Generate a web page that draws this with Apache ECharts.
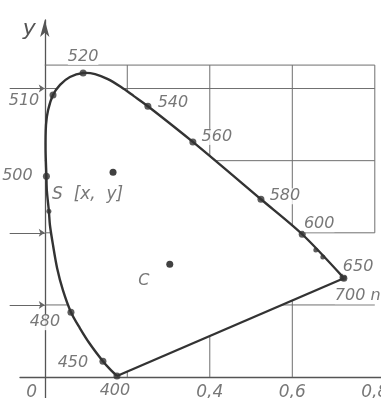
<!DOCTYPE html>
<html>
<head>
<meta charset="utf-8">
<script src="https://cdn.jsdelivr.net/npm/echarts@6/dist/echarts.min.js"></script>
<style>
  html, body { margin: 0; padding: 0; background: #fff; }
  #chart { width: 381px; height: 398px; }
</style>
</head>
<body>
<div id="chart"></div>
<script>
// CIE 1931 (x, y) chromaticity diagram: spectral locus, purple line,
// illuminant C and a sample colour S.

// Spectral locus traced from 400 nm round to 650 nm
const locusX = [0.175, 0.158, 0.141, 0.110, 0.085, 0.0635, 0.044, 0.030, 0.020, 0.0126,
                0.010, 0.005, 0.004, 0.002, 0.003, 0.008, 0.020, 0.037, 0.061, 0.093,
                0.122, 0.153, 0.185, 0.216, 0.250, 0.359, 0.524, 0.624, 0.723];
const locusY = [0.003, 0.022, 0.044, 0.091, 0.136, 0.180, 0.241, 0.302, 0.366, 0.421,
                0.460, 0.518, 0.557, 0.629, 0.699, 0.740, 0.782, 0.810, 0.832, 0.843,
                0.840, 0.826, 0.804, 0.779, 0.751, 0.652, 0.493, 0.396, 0.277];

// Labelled wavelengths on the locus
const waveNames = ['400', '450', '480', '500', '510', '520', '540', '560', '580', '600', '650', '700 nm'];
const waveX = [0.175, 0.141, 0.0635, 0.004, 0.020, 0.093, 0.250, 0.359, 0.524, 0.624, 0.723, 0.725];
const waveY = [0.003, 0.044, 0.180, 0.557, 0.782, 0.843, 0.751, 0.652, 0.493, 0.396, 0.277, 0.274];

// Unlabelled wavelength marks
const dotX = [0.010, 0.657, 0.674];
const dotY = [0.460, 0.352, 0.333];

// Sample colour S and illuminant C
const pointNames = ['S  [x,  y]', 'C'];
const pointX = [0.1655, 0.303];
const pointY = [0.568, 0.313];

// Coordinate grid and x tick labels
const gridXs = [0.2, 0.4, 0.6, 0.8];
const gridXFrom = [0, 0, 0, 0.4];
const gridYs = [0.2, 0.4, 0.6, 0.8];
const frameTop = 0.865;
const frameRight = 0.8;
const arrowYs = [0.2, 0.4, 0.8];
const arrowStartX = -0.085;
const xTickValues = [0, 0.4, 0.6, 0.8];
const xTickLabels = ['0', '0,4', '0,6', '0,8'];

// label placement (pixels from the mark)
const labelPlacement = {
  '400': { offset: [-2, 15] },
  '450': { offset: [-30, 2] },
  '480': { offset: [-26, 10] },
  '500': { offset: [-29, 0] },
  '510': { offset: [-29, 6] },
  '520': { offset: [0, -16] },
  '540': { offset: [25, -3] },
  '560': { offset: [24, -5] },
  '580': { offset: [24, -3] },
  '600': { offset: [17, -10] },
  '650': { offset: [15, -10] },
  '700 nm': { offset: [-9, 18], align: 'left' },
  'S  [x,  y]': { offset: [-61, 22], align: 'left', fontSize: 17 },
  'C': { offset: [-26, 17] },
  '0': { offset: [-13, 15] },
  '0,4': { offset: [0, 15] },
  '0,6': { offset: [0, 15] },
  '0,8': { offset: [0, 15] }
};

const textFont = { color: '#555', fontSize: 16, fontStyle: 'italic', fontFamily: 'DejaVu Sans' };
const ink = '#333';

const gridSegments = [];
gridXs.forEach((gx, i) => gridSegments.push([gx, gridXFrom[i], gx, frameTop]));
gridYs.forEach(gy => gridSegments.push([0, gy, frameRight, gy]));
gridSegments.push([0, frameTop, frameRight, frameTop]);

function labelled(names, xs, ys) {
  return names.map((n, i) => {
    const p = labelPlacement[n];
    const label = { offset: p.offset, align: p.align || 'center' };
    if (p.fontSize) label.fontSize = p.fontSize;
    return { name: n, value: [xs[i], ys[i]], label };
  });
}

const labelStyle = {
  show: true,
  position: 'inside',
  formatter: p => p.name,
  color: textFont.color,
  fontSize: textFont.fontSize,
  fontStyle: textFont.fontStyle,
  fontFamily: textFont.fontFamily
};

const chart = echarts.init(document.getElementById('chart'), null, { renderer: 'canvas' });

chart.setOption({
  animation: false,
  backgroundColor: '#fff',
  grid: { left: 20, right: 0, top: 20, bottom: 0, outerBoundsMode: 'none' },
  xAxis: {
    type: 'value',
    min: -0.06,
    max: 0.815,
    axisLine: { onZero: true, lineStyle: { color: '#555', width: 1.3 } },
    axisTick: { show: false },
    splitLine: { show: false },
    axisLabel: { show: false }
  },
  yAxis: {
    type: 'value',
    min: -0.058,
    max: 0.99,
    name: 'y',
    nameLocation: 'end',
    nameGap: 2,
    nameTextStyle: {
      color: '#555', fontSize: 22, fontStyle: 'italic', fontFamily: 'DejaVu Sans',
      align: 'right', verticalAlign: 'top', padding: [0, 9, 0, 0]
    },
    axisLine: {
      onZero: true,
      symbol: ['none', 'arrow'],
      symbolSize: [7, 17],
      lineStyle: { color: '#555', width: 1.3 }
    },
    axisTick: { show: false },
    axisLabel: { show: false },
    splitLine: { show: false }
  },
  series: [
    {
      // grid lines, later masked inside the locus
      type: 'custom',
      z: 1,
      silent: true,
      data: gridSegments,
      renderItem: (params, api) => {
        const a = api.coord([api.value(0), api.value(1)]);
        const b = api.coord([api.value(2), api.value(3)]);
        return {
          type: 'line',
          shape: { x1: a[0], y1: a[1], x2: b[0], y2: b[1] },
          style: { stroke: '#6f6f6f', lineWidth: 1 }
        };
      }
    },
    {
      // arrows marking the y levels
      type: 'lines',
      coordinateSystem: 'cartesian2d',
      z: 2,
      clip: false,
      silent: true,
      symbol: ['none', 'arrow'],
      symbolSize: 6,
      lineStyle: { color: '#666', width: 1, opacity: 1 },
      data: arrowYs.map(y => ({ coords: [[arrowStartX, y], [0, y]] }))
    },
    {
      // chromaticity region: white fill, spectral locus and purple line
      type: 'custom',
      z: 3,
      silent: true,
      data: [[locusX[0], locusY[0]]],
      renderItem: (params, api) => {
        const pts = locusX.map((x, i) => api.coord([x, locusY[i]]));
        const p400 = api.coord([waveX[0], waveY[0]]);
        const p700 = api.coord([waveX[waveX.length - 1], waveY[waveY.length - 1]]);
        return {
          type: 'group',
          children: [
            { type: 'polygon', shape: { points: pts.concat([p700]) },
              style: { fill: '#fff', stroke: null } },
            { type: 'polyline', shape: { points: pts, smooth: 0.3 },
              style: { fill: null, stroke: ink, lineWidth: 2.4 } },
            { type: 'line', shape: { x1: p700[0], y1: p700[1], x2: p400[0], y2: p400[1] },
              style: { stroke: ink, lineWidth: 2.4 } }
          ]
        };
      }
    },
    {
      // unlabelled marks
      type: 'scatter',
      z: 4,
      symbolSize: 5,
      itemStyle: { color: ink },
      data: dotX.map((x, i) => [x, dotY[i]])
    },
    {
      // labelled wavelengths
      type: 'scatter',
      z: 5,
      symbolSize: 7,
      itemStyle: { color: ink },
      label: Object.assign({ backgroundColor: '#fff' }, labelStyle),
      data: labelled(waveNames, waveX, waveY)
    },
    {
      // S and C
      type: 'scatter',
      z: 5,
      symbolSize: 7,
      itemStyle: { color: '#111' },
      label: labelStyle,
      data: labelled(pointNames, pointX, pointY)
    },
    {
      // x tick labels along the x axis
      type: 'scatter',
      z: 5,
      symbolSize: 0,
      silent: true,
      label: Object.assign({}, labelStyle, { fontSize: 17 }),
      data: labelled(xTickLabels, xTickValues, xTickValues.map(() => 0))
    }
  ]
});
</script>
</body>
</html>
